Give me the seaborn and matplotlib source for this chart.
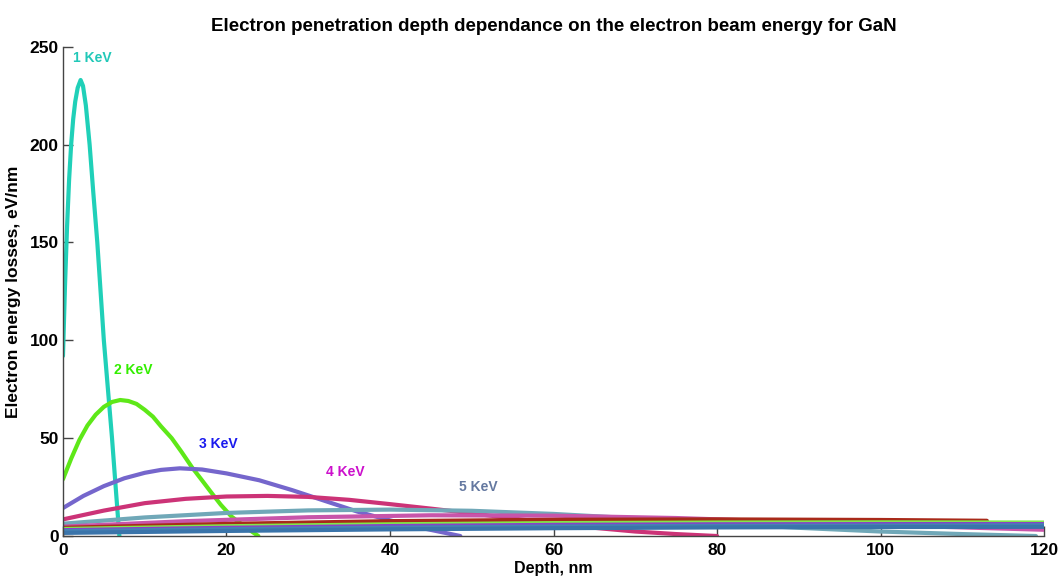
import pandas as pd
import matplotlib
matplotlib.use("Agg")
import matplotlib.pyplot as plt
import seaborn as sns

# --------------------------
# DATA
# --------------------------
energies = ["1 KeV", "2 KeV", "3 KeV", "4 KeV", "5 KeV",
            "6 KeV", "7 KeV", "8 KeV", "9 KeV", "10 KeV", "11 KeV"]

depth_1 = [0, 0.25, 0.5, 0.75, 1.0, 1.25, 1.5, 1.8, 2.16, 2.45, 2.8, 3.26, 3.7, 4.2, 4.6, 5.0, 5.5, 6.0, 6.5, 6.9]
loss_1 = [92, 128, 158, 182, 200, 213, 222, 229, 233, 230, 220, 200, 176, 150, 125, 100, 75, 50, 22, 0]

depth_2 = [0, 1, 2, 3, 4, 5, 6, 7, 8, 9, 10, 11, 12, 13.3, 14.5, 15.8, 17, 18, 19.3, 20.6, 22.5, 23.9]
loss_2 = [29, 39.5, 49, 56.5, 62, 66, 68.5, 69.5, 69, 67.5, 64.5, 61, 56, 50, 43, 35, 28.5, 23, 16, 10, 4, 0]

depth_3 = [0, 2.5, 5, 7.5, 10, 12, 14.3, 17, 20, 24, 28, 32, 36, 40, 44, 48.6]
loss_3 = [14.3, 20.5, 25.5, 29.5, 32.3, 33.8, 34.6, 34, 32, 28.5, 23.5, 18, 12.5, 8, 4, 0]

depth_4 = [0, 5, 10, 15, 20, 25, 30, 35, 40, 45, 50, 55, 60, 65, 70, 75, 80]
loss_4 = [8.5, 13, 16.8, 19, 20.2, 20.5, 20, 18.5, 16.3, 14, 11.6, 9, 6.5, 4.2, 2.3, 1, 0]

depth_5 = [0, 10, 20, 30, 40, 50, 60, 70, 80, 90, 100, 110, 119]
loss_5 = [6.3, 9.5, 11.8, 13.1, 13.5, 12.9, 11.3, 9, 6.5, 4.2, 2.3, 1, 0]

depth_6 = [0, 15, 30, 45, 60, 75, 90, 105, 120]
loss_6 = [4.8, 7.6, 9.6, 10.6, 10.4, 9.2, 7.2, 5, 3.2]

depth_7 = [0, 20, 40, 60, 80, 100, 113]
loss_7 = [4.2, 6.2, 7.6, 8.3, 8.5, 8.2, 7.8]

depth_long = [0, 20, 40, 60, 80, 100, 120]
loss_8 = [3.6, 5.0, 6.0, 6.6, 6.9, 7.0, 6.9]
loss_9 = [3.0, 4.2, 5.1, 5.7, 6.0, 6.1, 6.1]
loss_10 = [2.5, 3.5, 4.3, 4.9, 5.2, 5.4, 5.5]
loss_11 = [1.6, 2.6, 3.4, 4.0, 4.4, 4.6, 4.7]

curve_colors = ["#20d0b8", "#5ee818", "#7566cc", "#cc3377", "#70a8b8",
                "#c855aa", "#a82a1a", "#80e848", "#8a40c8", "#4682b4", "#3a74aa"]

# label text, position and colour
label_x = [1.2, 6.3, 16.6, 32.2, 48.4]
label_y = [244, 85, 47, 32.8, 25.2]
label_colors = ["#22c8b8", "#33ee00", "#1a1aee", "#cc10cc", "#6478a0"]

curves = [(depth_1, loss_1), (depth_2, loss_2), (depth_3, loss_3), (depth_4, loss_4),
          (depth_5, loss_5), (depth_6, loss_6), (depth_7, loss_7),
          (depth_long, loss_8), (depth_long, loss_9), (depth_long, loss_10),
          (depth_long, loss_11)]

# long-form table for seaborn
frames = []
for name, (d, e) in zip(energies, curves):
    frames.append(pd.DataFrame({"depth": d, "loss": e, "energy": name}))
df = pd.concat(frames, ignore_index=True)

# --------------------------
# PLOT
# --------------------------
sns.set_style("ticks")
plt.rcParams["font.family"] = ["Liberation Sans", "DejaVu Sans"]
plt.rcParams["text.color"] = "black"
plt.rcParams["axes.labelcolor"] = "black"
plt.rcParams["xtick.color"] = "black"
plt.rcParams["ytick.color"] = "black"

fig = plt.figure(figsize=(10.6, 5.77), dpi=100)
ax = fig.add_axes([0.0594, 0.071, 0.9256, 0.848])

sns.lineplot(data=df, x="depth", y="loss", hue="energy", hue_order=energies,
             palette=dict(zip(energies, curve_colors)), sort=False,
             estimator=None, linewidth=3, legend=False, ax=ax)

for txt, x, y, c in zip(energies[:5], label_x, label_y, label_colors):
    ax.text(x, y, txt, color=c, fontsize=10, fontweight="bold", va="center", ha="left")

ax.set_xlim(0, 120)
ax.set_ylim(0, 250)
ax.set_xticks([0, 20, 40, 60, 80, 100, 120])
ax.set_yticks([0, 50, 100, 150, 200, 250])
ax.tick_params(direction="in", length=7, width=1, color="#444444", labelcolor="black", labelsize=12.5)
ax.tick_params(axis="x", pad=5)
ax.tick_params(axis="y", pad=3)
for lab in ax.get_xticklabels() + ax.get_yticklabels():
    lab.set_fontweight("bold")

sns.despine(ax=ax)
for s in ["left", "bottom"]:
    ax.spines[s].set_color("#444444")
    ax.spines[s].set_linewidth(1)

ax.set_xlabel("Depth, nm", fontsize=11.5, fontweight="bold", labelpad=2)
ax.set_ylabel("Electron energy losses, eV/nm", fontsize=12.5, fontweight="bold", labelpad=6)
ax.set_title("Electron penetration depth dependance on the electron beam energy for GaN",
             fontsize=13.5, fontweight="bold", pad=11)

fig.savefig("out.png", dpi=100)
